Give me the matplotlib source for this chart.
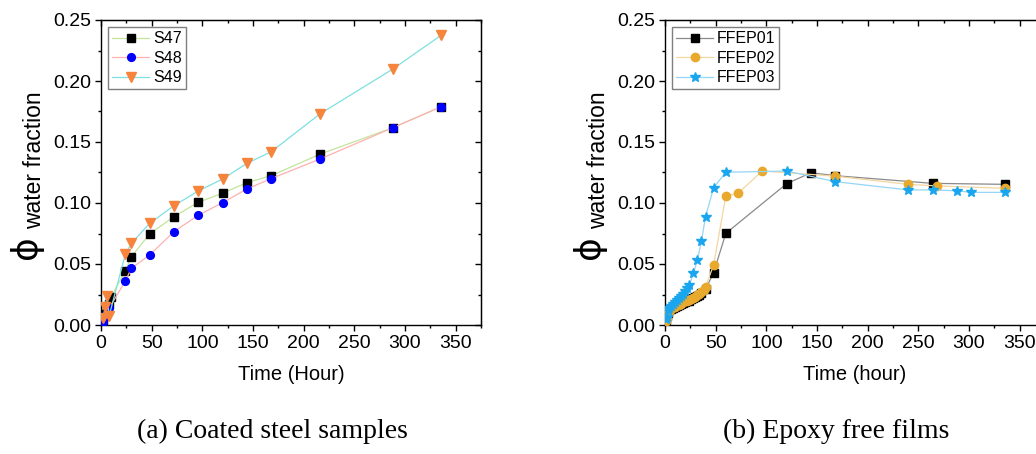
import matplotlib
matplotlib.use("Agg")
import matplotlib.pyplot as plt
from matplotlib.ticker import MultipleLocator, FormatStrFormatter

plt.rcParams['font.family'] = ['Liberation Sans', 'DejaVu Sans']

# ---- (a) coated steel samples ----
t_s47 = [2, 4, 6, 8, 10, 24, 30, 48, 72, 96, 120, 144, 168, 216, 288, 336]
phi_s47 = [0.004, 0.009, 0.0135, 0.017, 0.0232, 0.0443, 0.056, 0.0746, 0.0888,
           0.1006, 0.108, 0.1167, 0.1224, 0.140, 0.1617, 0.179]

t_s48 = [2, 4, 6, 8, 24, 30, 48, 72, 96, 120, 144, 168, 216, 288, 336]
phi_s48 = [0.0027, 0.0068, 0.0095, 0.0137, 0.036, 0.0465, 0.0574, 0.0765, 0.090,
           0.1003, 0.1115, 0.120, 0.136, 0.1617, 0.179]

t_s49 = [2, 4, 6, 8, 24, 30, 48, 72, 96, 120, 144, 168, 216, 288, 336]
phi_s49 = [0.0055, 0.0145, 0.0235, 0.0074, 0.058, 0.067, 0.0833, 0.0978, 0.1098,
           0.1197, 0.1325, 0.142, 0.173, 0.2098, 0.2377]

# ---- (b) epoxy free films ----
t_f01 = [1, 2, 3, 4, 6, 8, 10, 12, 14, 16, 18, 20, 22, 24, 26, 28, 30, 32, 34, 36,
         40, 48, 60, 120, 144, 168, 264, 336]
phi_f01 = [0.004, 0.007, 0.010, 0.012, 0.013, 0.014, 0.0145, 0.0155, 0.016, 0.017,
           0.0178, 0.0186, 0.0194, 0.020, 0.021, 0.022, 0.023, 0.024, 0.025, 0.026,
           0.0292, 0.0429, 0.0751, 0.1158, 0.1248, 0.1224, 0.1161, 0.1153]

t_f02 = [1, 2, 3, 4, 6, 8, 10, 12, 14, 16, 18, 20, 22, 24, 26, 28, 30, 32, 34, 36,
         38, 40, 48, 60, 72, 96, 168, 240, 268, 336]
phi_f02 = [0.003, 0.0055, 0.0096, 0.011, 0.0135, 0.0145, 0.015, 0.016, 0.0168,
           0.0176, 0.0186, 0.0193, 0.020, 0.0207, 0.0214, 0.0222, 0.0232, 0.0245,
           0.0255, 0.0268, 0.0285, 0.0314, 0.0492, 0.1057, 0.108, 0.1262, 0.122,
           0.1153, 0.114, 0.112]

t_f03 = [1, 2, 3, 4, 6, 8, 10, 12, 14, 16, 18, 20, 22, 24, 28, 32, 36, 40, 48, 60,
         120, 168, 240, 264, 288, 302, 336]
phi_f03 = [0.005, 0.0068, 0.0125, 0.014, 0.0156, 0.0175, 0.019, 0.0205, 0.022,
           0.0235, 0.0255, 0.0275, 0.030, 0.0325, 0.0424, 0.0533, 0.069, 0.0888,
           0.1125, 0.1252, 0.1262, 0.1175, 0.1107, 0.1107, 0.110, 0.1087, 0.1087]

W, H = 1036, 454
fig = plt.figure(figsize=(W / 100, H / 100), dpi=100)


def px_axes(x0, x1, y0, y1):
    return fig.add_axes([x0 / W, 1 - y1 / H, (x1 - x0) / W, (y1 - y0) / H])


def style_axes(ax):
    ax.set_xlim(0, 375)
    ax.set_ylim(0, 0.25)
    ax.xaxis.set_major_locator(MultipleLocator(50))
    ax.xaxis.set_minor_locator(MultipleLocator(25))
    ax.yaxis.set_major_locator(MultipleLocator(0.05))
    ax.yaxis.set_minor_locator(MultipleLocator(0.025))
    ax.yaxis.set_major_formatter(FormatStrFormatter('%.2f'))
    ax.tick_params(which='both', direction='out', labelsize=14, width=1)
    ax.tick_params(axis='x', pad=3)
    ax.tick_params(axis='y', pad=2.5)
    ax.tick_params(which='major', length=4.5)
    ax.tick_params(which='minor', length=2.5)
    for s in ax.spines.values():
        s.set_linewidth(1.0)
    # mirrored inward ticks on top and right
    top = ax.secondary_xaxis('top')
    top.xaxis.set_major_locator(MultipleLocator(50))
    top.xaxis.set_minor_locator(MultipleLocator(25))
    top.tick_params(which='both', direction='in', labeltop=False, width=1)
    top.tick_params(which='major', length=4.5)
    top.tick_params(which='minor', length=2.5)
    right = ax.secondary_yaxis('right')
    right.yaxis.set_major_locator(MultipleLocator(0.05))
    right.yaxis.set_minor_locator(MultipleLocator(0.025))
    right.tick_params(which='both', direction='in', labelright=False, width=1)
    right.tick_params(which='major', length=4.5)
    right.tick_params(which='minor', length=2.5)


def legend(ax):
    ax.legend(loc='upper left', bbox_to_anchor=(0.0, 1.0), fontsize=11.5,
              frameon=True, fancybox=False, edgecolor='#7f7f7f',
              framealpha=1, handlelength=2.3, handletextpad=0.25,
              labelspacing=0.28, borderpad=0.25, borderaxespad=0.45)


axa = px_axes(101, 481, 20, 325)
axa.plot(t_s47, phi_s47, color='#c2e59a', lw=0.9, marker='s', ms=5.2,
         mfc='black', mec='black', label='S47', zorder=3)
axa.plot(t_s48, phi_s48, color='#ffb0b0', lw=0.9, marker='o', ms=5.6,
         mfc='#0000ff', mec='#0000ff', label='S48', zorder=3)
axa.plot(t_s49, phi_s49, color='#7ee0e0', lw=0.9, marker='v', ms=6.5,
         mfc='#f7843c', mec='#f7843c', label='S49', zorder=3)
style_axes(axa)
legend(axa)
axa.set_xlabel('Time (Hour)', fontsize=14.5, labelpad=9)

axb = px_axes(665, 1045, 20, 325)
axb.plot(t_f01, phi_f01, color='#8a8a8a', lw=0.9, marker='s', ms=5.2,
         mfc='black', mec='black', label='FFEP01', zorder=3)
axb.plot(t_f02, phi_f02, color='#f3d6a0', lw=0.9, marker='o', ms=6.0,
         mfc='#e8a92c', mec='#e8a92c', label='FFEP02', zorder=3)
axb.plot(t_f03, phi_f03, color='#95d5f5', lw=0.9, marker='*', ms=7.5,
         mfc='#1aa6ee', mec='#1aa6ee', label='FFEP03', zorder=3)
style_axes(axb)
legend(axb)
axb.set_xlabel('Time (hour)', fontsize=14.5, labelpad=9)

# y labels: large phi with "water fraction" as subscript
for xphi, xsub in [(26, 35), (589, 599)]:
    fig.text(xphi / W, 1 - 247 / H, '\u03d5', rotation=90, fontsize=26,
             family=['DejaVu Sans'], ha='center', va='center')
    fig.text(xsub / W, 1 - 160 / H, 'water fraction', rotation=90, fontsize=16.5,
             ha='center', va='center')

# panel captions
fig.text(272 / W, 1 - 431 / H, '(a) Coated steel samples', fontsize=20,
         family='Liberation Serif', ha='center', va='center')
fig.text(836 / W, 1 - 431 / H, '(b) Epoxy free films', fontsize=20,
         family='Liberation Serif', ha='center', va='center')

fig.savefig('out.png', dpi=100)
